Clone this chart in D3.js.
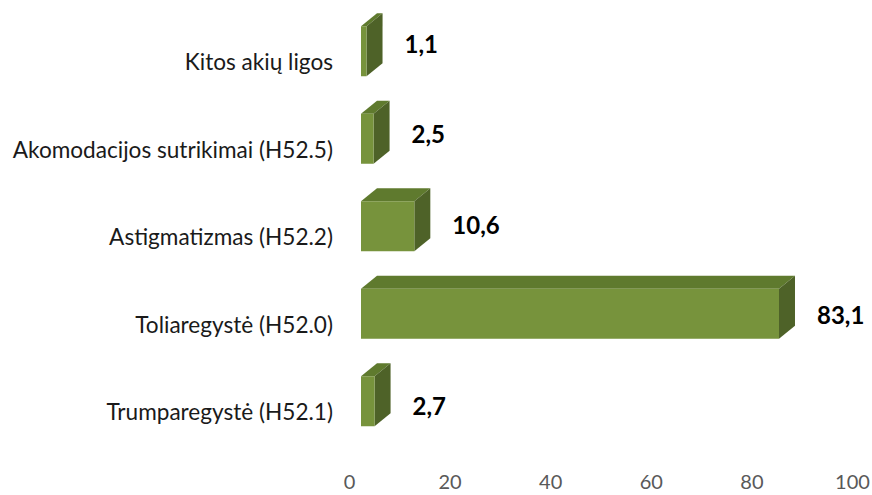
<!DOCTYPE html>
<html><head><meta charset="utf-8">
<script src="https://cdn.jsdelivr.net/npm/d3@7/dist/d3.min.js"></script>
<style>body{margin:0;background:#fff}svg{display:block}</style>
</head><body>
<script>
const categories = ["Kitos akių ligos","Akomodacijos sutrikimai (H52.5)","Astigmatizmas (H52.2)","Toliaregystė (H52.0)","Trumparegystė (H52.1)"];
const values = [1.1, 2.5, 10.6, 83.1, 2.7];
const valueLabels = ["1,1","2,5","10,6","83,1","2,7"];
const ticks = [0,20,40,60,80,100];

const W=872,H=495;
const svg=d3.select("body").append("svg").attr("width",W).attr("height",H);
const x=d3.scaleLinear().domain([0,100]).range([361,864]);
const y=d3.scaleBand().domain(categories).range([18.5,456]).paddingInner(0).paddingOuter(0);
const dx=16, dy=-13, fTop=-36, fBot=14;
const font="Lato, 'Open Sans', sans-serif";

categories.forEach((c,i)=>{
  const cy=y(c)+y.bandwidth()/2;
  const x0=x(0), x1=x(values[i]);
  const t=cy+fTop, b=cy+fBot;
  const g=svg.append("g");
  g.append("path").attr("d",`M${x0},${t}L${x1},${t}L${x1+dx},${t+dy}L${x0+dx},${t+dy}Z`).attr("fill","#5f7a2e");
  g.append("path").attr("d",`M${x1},${t}L${x1+dx},${t+dy}L${x1+dx},${b+dy}L${x1},${b}Z`).attr("fill","#4e6228");
  g.append("rect").attr("x",x0).attr("y",t).attr("width",x1-x0).attr("height",b-t).attr("fill","#77933c");
  svg.append("text").attr("x",333).attr("y",cy).attr("dy","0.35em").attr("text-anchor","end")
    .attr("font-family",font).attr("font-size",22.6).attr("fill","#1a1a1a").text(c);
  svg.append("text").attr("x",x1+dx+22).attr("y",cy-18+3*i).attr("dy","0.35em")
    .attr("font-family",font).attr("font-size",24).attr("font-weight","bold").attr("fill","#000").text(valueLabels[i]);
});

const axis=d3.axisBottom(x.copy().range([349,852])).tickValues(ticks).tickSize(0).tickPadding(0);
const ag=svg.append("g").attr("transform","translate(0,482)").call(axis);
ag.select(".domain").remove();
ag.selectAll("text").attr("font-family",font).attr("font-size",20).attr("fill","#595959").attr("dy","0.35em");
</script>
</body></html>
